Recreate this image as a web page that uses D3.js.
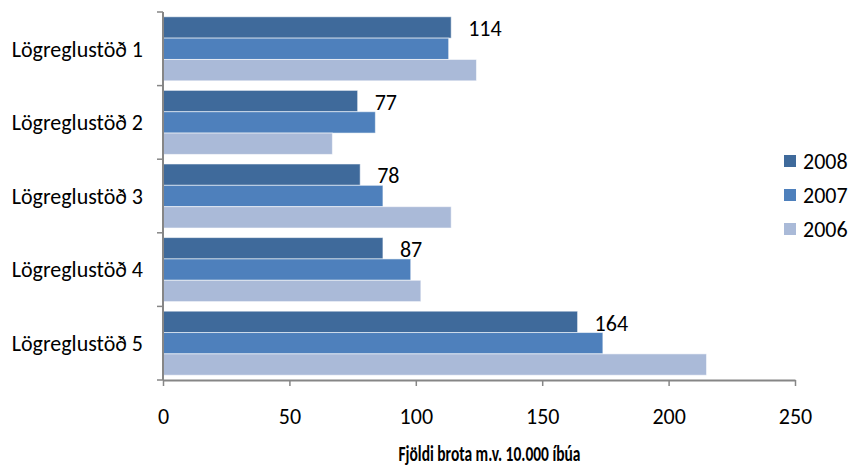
<!DOCTYPE html>
<html>
<head>
<meta charset="utf-8">
<script src="https://cdn.jsdelivr.net/npm/d3@7"></script>
<style>
  html, body { margin: 0; padding: 0; background: #fff; }
  svg text { font-family: Carlito, Lato, "Open Sans", sans-serif; fill: #000; }
</style>
</head>
<body>
<svg id="chart" width="853" height="466"></svg>
<script>
const categories = ["Lögreglustöð 1", "Lögreglustöð 2", "Lögreglustöð 3", "Lögreglustöð 4", "Lögreglustöð 5"];
const seriesNames = ["2008", "2007", "2006"];
const values2008 = [114, 77, 78, 87, 164];
const values2007 = [113, 84, 87, 98, 174];
const values2006 = [124, 67, 114, 102, 215];
const xTicks = [0, 50, 100, 150, 200, 250];
const colors = ["#3F6A9B", "#4E80BC", "#AABAD8"];
const axisTitle = "Fjöldi brota m.v. 10.000 íbúa";

const seriesValues = [values2008, values2007, values2006];
const data = categories.map((c, i) => ({
  cat: c,
  vals: seriesNames.map((s, j) => ({ series: s, idx: j, value: seriesValues[j][i] }))
}));

const FONT = "Carlito, Lato, 'Open Sans', sans-serif";
const svg = d3.select("#chart");
const m = { left: 163, right: 795, top: 12, bottom: 380 };

const x = d3.scaleLinear().domain([0, 250]).range([m.left, m.right]);
const y = d3.scaleBand().domain(categories).range([m.top, m.bottom]).paddingInner(0.13).paddingOuter(0.065);
const ySub = d3.scaleBand().domain(seriesNames).range([0, y.bandwidth()]);

// bars
const groups = svg.append("g").selectAll("g").data(data).join("g")
  .attr("transform", d => `translate(0,${y(d.cat)})`);
groups.selectAll("rect").data(d => d.vals).join("rect")
  .attr("x", x(0))
  .attr("y", d => ySub(d.series))
  .attr("width", d => x(d.value) - x(0))
  .attr("height", ySub.bandwidth())
  .attr("fill", d => colors[d.idx])
  .attr("stroke", "rgba(255,255,255,0.55)")
  .attr("stroke-width", 1);

// data labels for 2008
groups.append("text")
  .attr("x", d => x(d.vals[0].value) + 17)
  .attr("y", d => ySub("2008") + ySub.bandwidth() / 2 + 1)
  .attr("dy", "0.35em")
  .attr("font-size", 22)
  .text(d => d.vals[0].value);

// x axis
const xAxis = svg.append("g").attr("transform", `translate(0,${m.bottom})`)
  .call(d3.axisBottom(x).tickValues(xTicks).tickSize(6).tickSizeOuter(0).tickPadding(22));
xAxis.select(".domain").attr("stroke", "#868686").attr("stroke-width", 2);
xAxis.selectAll(".tick line").attr("stroke", "#868686").attr("stroke-width", 1.5);
xAxis.selectAll(".tick text").attr("font-size", 22).attr("font-family", FONT).attr("fill", "#000");

// y axis: line with ticks at category boundaries
const yLine = svg.append("g");
yLine.append("line").attr("x1", m.left).attr("x2", m.left).attr("y1", m.top).attr("y2", m.bottom)
  .attr("stroke", "#868686").attr("stroke-width", 2);
const yTickScale = d3.scaleLinear().domain([0, categories.length]).range([m.top, m.bottom]);
yLine.selectAll("line.tk").data(d3.range(categories.length + 1)).join("line")
  .attr("class", "tk")
  .attr("x1", m.left - 6).attr("x2", m.left)
  .attr("y1", d => yTickScale(d)).attr("y2", d => yTickScale(d))
  .attr("stroke", "#868686").attr("stroke-width", 1.5);

// category labels
svg.append("g").selectAll("text").data(categories).join("text")
  .attr("x", 143)
  .attr("y", d => y(d) + y.bandwidth() / 2)
  .attr("dy", "0.35em")
  .attr("text-anchor", "end")
  .attr("font-size", 22)
  .text(d => d);

// axis title
svg.append("text")
  .attr("x", 489.5)
  .attr("y", 453)
  .attr("dy", "0.35em")
  .attr("text-anchor", "middle")
  .attr("font-size", 23)
  .attr("font-weight", "bold")
  .attr("textLength", 182)
  .attr("lengthAdjust", "spacingAndGlyphs")
  .text(axisTitle);

// legend
const legend = svg.append("g").selectAll("g").data(seriesNames).join("g")
  .attr("transform", (d, i) => `translate(784,${161 + i * 34})`);
legend.append("rect").attr("x", 0).attr("y", -6).attr("width", 12).attr("height", 12)
  .attr("fill", (d, i) => colors[i]);
legend.append("text").attr("x", 19).attr("y", 0).attr("dy", "0.35em")
  .attr("font-size", 22).text(d => d);
</script>
</body>
</html>
